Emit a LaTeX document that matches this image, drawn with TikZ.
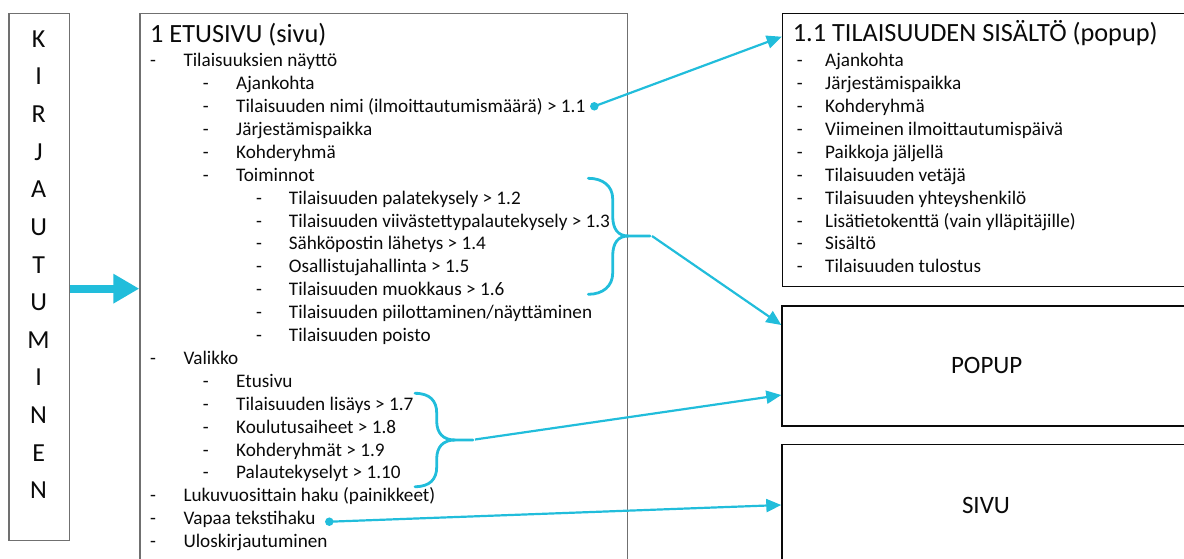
\documentclass[tikz,border=0pt]{standalone}
\usepackage{fontspec}
\setmainfont{Carlito}
\usetikzlibrary{arrows.meta}
\definecolor{linkcyan}{RGB}{33,189,219}
\definecolor{framegray}{RGB}{112,112,112}
\definecolor{inkdark}{RGB}{10,10,10}

% one list row: name, dash x, text x, row index, text
\newcommand\listrow[5]{%
  \node[dashlbl] (#1d) at (#2,{66.7+22.9*#4}) {-};
  \node[itemlbl] (#1) at (#3,{66.7+22.9*#4}) {#5};
}

\begin{document}
\begin{tikzpicture}[x=1pt,y=-1pt,
  framebox/.style={draw=framegray,line width=1.4pt,anchor=north west,inner sep=0pt},
  pagebox/.style={draw=inkdark,line width=1.3pt,anchor=north west,inner sep=0pt},
  itemlbl/.style={anchor=base west,inner sep=0pt,text=inkdark,font=\fontsize{19.2}{22}\selectfont},
  dashlbl/.style={itemlbl},
  titlelbl/.style={anchor=base west,inner sep=0pt,text=inkdark,font=\fontsize{26.3}{30}\selectfont},
  bigletter/.style={anchor=base,inner sep=0pt,text=inkdark,font=\fontsize{26}{30}\selectfont},
  boxname/.style={inner sep=0pt,text=inkdark,font=\fontsize{25}{30}\selectfont},
  bracestroke/.style={draw=linkcyan,line width=2.8pt,line cap=round},
  link/.style={draw=linkcyan,line width=2.2pt,-{Triangle[length=15pt,width=13pt]}},
  linkdot/.style={circle,fill=linkcyan,inner sep=0pt,minimum size=8.5pt},
  bigarrow/.style={draw=linkcyan,line width=8pt,-{Triangle[length=26pt,width=28pt]}}
]
\useasboundingbox (0,0) rectangle (1184,558);
\clip (0,0) rectangle (1184,558);

% frames
\node[framebox,minimum width=60.7pt,minimum height=527.3pt] (login) at (8.3,12.7) {};
\node[framebox,minimum width=487.7pt,minimum height=570pt] (main) at (139.3,12.7) {};
\node[pagebox,minimum width=420pt,minimum height=273.3pt] (box11) at (781.7,12.7) {};
\node[pagebox,minimum width=420pt,minimum height=120pt] (popup) at (781.3,305.3) {};
\node[pagebox,minimum width=420pt,minimum height=130pt] (sivu) at (781.3,443.7) {};

% vertical login label
\foreach \ch [count=\i from 0] in {K,I,R,J,A,U,T,U,M,I,N,E,N}
  \node[bigletter] (letter\i) at (38.6,{47.3+37.62*\i}) {\ch};

% front page contents
\node[titlelbl] (maintitle) at (150,42) {1 ETUSIVU (sivu)};
\listrow{m0}{150}{183.3}{0}{Tilaisuuksien näyttö}
\listrow{m1}{202.7}{236}{1}{Ajankohta}
\listrow{m2}{202.7}{236}{2}{Tilaisuuden nimi (ilmoittautumismäärä) > 1.1}
\listrow{m3}{202.7}{236}{3}{Järjestämispaikka}
\listrow{m4}{202.7}{236}{4}{Kohderyhmä}
\listrow{m5}{202.7}{236}{5}{Toiminnot}
\listrow{m6}{256}{288.7}{6}{Tilaisuuden palatekysely > 1.2}
\listrow{m7}{256}{288.7}{7}{Tilaisuuden viivästettypalautekysely > 1.3}
\listrow{m8}{256}{288.7}{8}{Sähköpostin lähetys > 1.4}
\listrow{m9}{256}{288.7}{9}{Osallistujahallinta > 1.5}
\listrow{m10}{256}{288.7}{10}{Tilaisuuden muokkaus > 1.6}
\listrow{m11}{256}{288.7}{11}{Tilaisuuden piilottaminen/näyttäminen}
\listrow{m12}{256}{288.7}{12}{Tilaisuuden poisto}
\listrow{m13}{150}{183.3}{13}{Valikko}
\listrow{m14}{202.7}{236}{14}{Etusivu}
\listrow{m15}{202.7}{236}{15}{Tilaisuuden lisäys > 1.7}
\listrow{m16}{202.7}{236}{16}{Koulutusaiheet > 1.8}
\listrow{m17}{202.7}{236}{17}{Kohderyhmät > 1.9}
\listrow{m18}{202.7}{236}{18}{Palautekyselyt > 1.10}
\listrow{m19}{150}{183.3}{19}{Lukuvuosittain haku (painikkeet)}
\listrow{m20}{150}{183.3}{20}{Vapaa tekstihaku}
\listrow{m21}{150}{183.3}{21}{Uloskirjautuminen}

% event content popup
\node[titlelbl] (sidetitle) at (792.7,41.7) {1.1 TILAISUUDEN SISÄLTÖ (popup)};
\listrow{s0}{796.7}{825}{0}{Ajankohta}
\listrow{s1}{796.7}{825}{1}{Järjestämispaikka}
\listrow{s2}{796.7}{825}{2}{Kohderyhmä}
\listrow{s3}{796.7}{825}{3}{Viimeinen ilmoittautumispäivä}
\listrow{s4}{796.7}{825}{4}{Paikkoja jäljellä}
\listrow{s5}{796.7}{825}{5}{Tilaisuuden vetäjä}
\listrow{s6}{796.7}{825}{6}{Tilaisuuden yhteyshenkilö}
\listrow{s7}{796.7}{825}{7}{Lisätietokenttä (vain ylläpitäjille)}
\listrow{s8}{796.7}{825}{8}{Sisältö}
\listrow{s9}{796.7}{825}{9}{Tilaisuuden tulostus}

\node[boxname] (popuplbl) at (986.7,365) {POPUP};
\node[boxname] (sivulbl) at (986,505) {SIVU};

% login leads to the front page
\draw[bigarrow] ([yshift=-11.6pt]login.east) -- ([yshift=-11.6pt]login.east -| main.west);

% braces grouping the actions and the menu entries
\draw[bracestroke] (588.3,178.3) .. controls (603,178.3) and (612.7,186) .. (612.7,199)
  -- (612.7,216) .. controls (612.7,229) and (618,236) .. (628.3,236) -- (650,236);
\draw[bracestroke] (588.3,294.3) .. controls (603,294.3) and (612.7,286) .. (612.7,273)
  -- (612.7,256) .. controls (612.7,243) and (618,236) .. (628.3,236);
\coordinate (actionsgrp) at (652,236);

\draw[bracestroke] (415,393.3) .. controls (430,393.3) and (436.7,401) .. (436.7,413)
  -- (436.7,421) .. controls (436.7,433) and (443,440) .. (455,440) -- (473,440);
\draw[bracestroke] (415,486.7) .. controls (430,486.7) and (436.7,479) .. (436.7,467)
  -- (436.7,459) .. controls (436.7,447) and (443,440) .. (455,440);
\coordinate (menugrp) at (475,439.5);

% connectors
\node[linkdot] (dotname) at (594.3,106.3) {};
\node[linkdot] (dotsearch) at (329.3,521.7) {};
\draw[link] (dotname.center) -- ([yshift=-24pt]box11.north west);
\draw[link] (actionsgrp) -- ([yshift=-19.7pt]popup.north west);
\draw[link] (menugrp) -- ([yshift=-89.7pt]popup.north west);
\draw[link] (dotsearch.center) -- ([yshift=-61.3pt]sivu.north west);
\end{tikzpicture}
\end{document}
